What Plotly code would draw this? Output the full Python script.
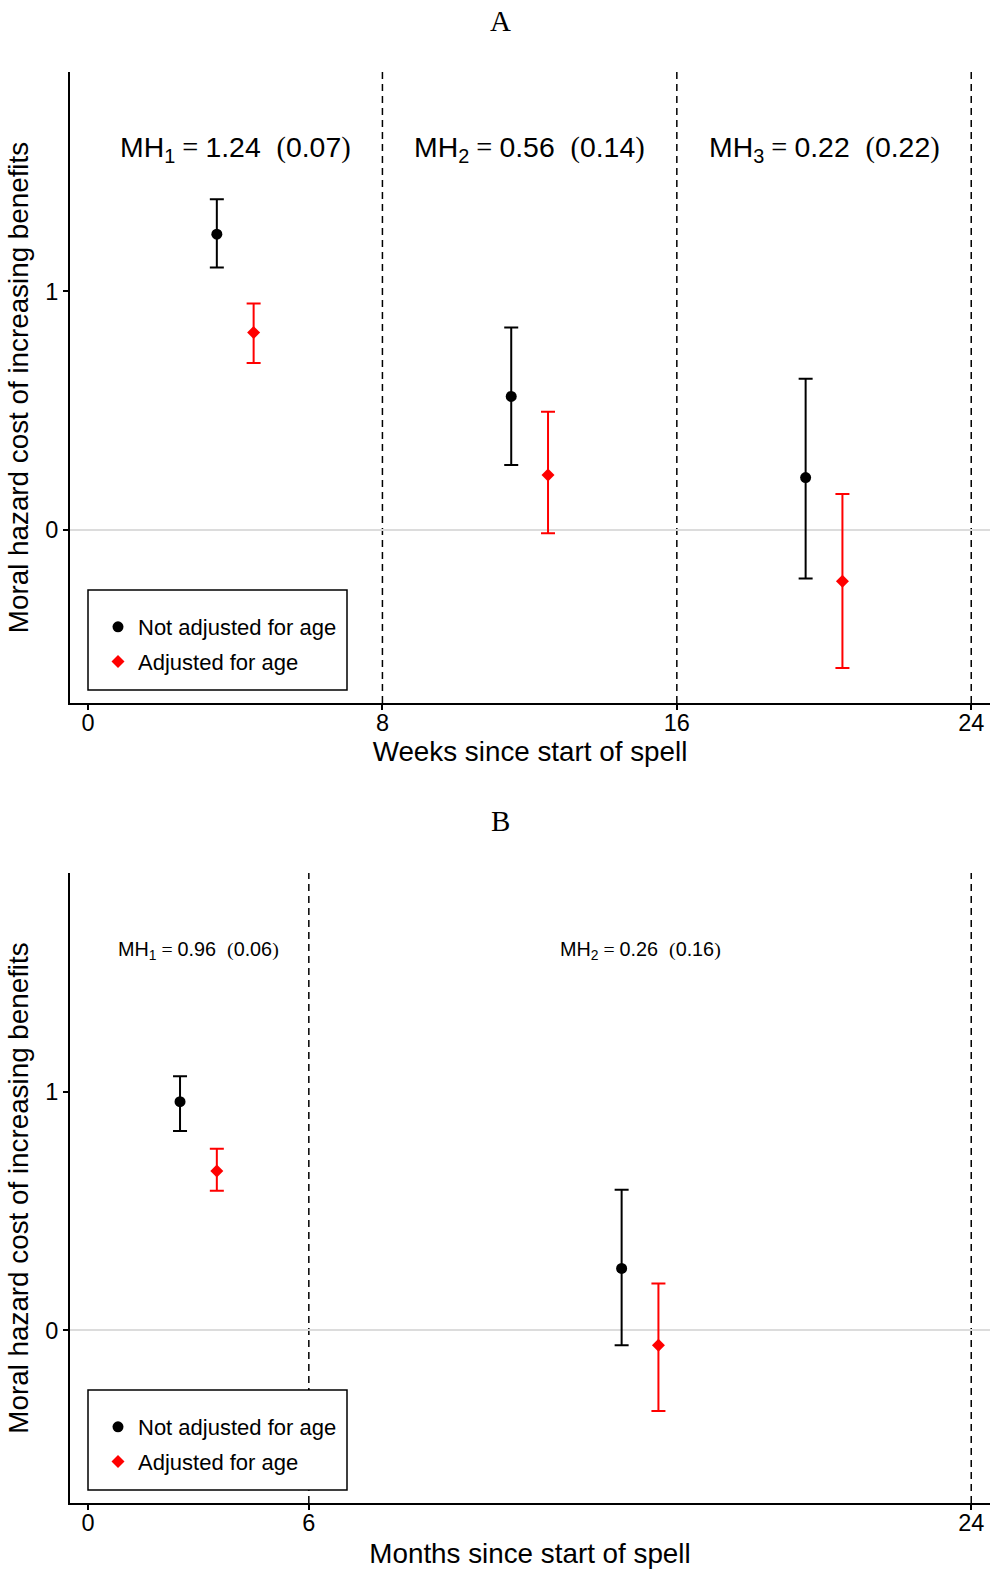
import plotly.graph_objects as go

# ---------------- data ----------------
# Panel A (weeks)
a_x_unadj = [3.5, 11.5, 19.5]
a_est_unadj = [1.24, 0.56, 0.22]
a_hi_unadj = [1.387, 0.849, 0.634]
a_lo_unadj = [1.100, 0.273, -0.203]

a_x_adj = [4.5, 12.5, 20.5]
a_est_adj = [0.828, 0.231, -0.215]
a_hi_adj = [0.950, 0.496, 0.151]
a_lo_adj = [0.700, -0.013, -0.578]

a_breaks = [8, 16, 24]
a_ticks = [0, 8, 16, 24]
a_labels_x = [4, 12, 20]
a_labels = [("1", "1.24", "0.07"), ("2", "0.56", "0.14"), ("3", "0.22", "0.22")]

# Panel B (months)
b_x_unadj = [2.5, 14.5]
b_est_unadj = [0.96, 0.26]
b_hi_unadj = [1.067, 0.590]
b_lo_unadj = [0.837, -0.063]

b_x_adj = [3.5, 15.5]
b_est_adj = [0.669, -0.063]
b_hi_adj = [0.762, 0.197]
b_lo_adj = [0.586, -0.339]

b_breaks = [6, 24]
b_ticks = [0, 6, 24]
b_labels_x = [3, 15]
b_labels = [("1", "0.96", "0.06"), ("2", "0.26", "0.16")]

y_ticks = [0, 1]
names = ["Not adjusted for age", "Adjusted for age"]

# ---------------- layout constants ----------------
W, H = 992, 1570
XDOM = [70 / W, 990 / W]
A_DOM = [1 - 703 / H, 1 - 72 / H]
B_DOM = [1 - 1503 / H, 1 - 873 / H]
XRANGE = [-0.49, 24.51]
YRANGE = [-0.725, 1.92]
SANS = "Liberation Sans, Arial, sans-serif"
SERIF = "Liberation Serif, Times New Roman, serif"

fig = go.Figure()


def add_series(x, est, hi, lo, color, symbol, size, name, xa, ya, legend):
    fig.add_trace(go.Scatter(
        x=x, y=est, mode="markers", name=name, xaxis=xa, yaxis=ya,
        legend=legend, legendgroup=legend + name,
        marker=dict(color=color, symbol=symbol, size=size),
        error_y=dict(type="data", symmetric=False,
                     array=[h - e for h, e in zip(hi, est)],
                     arrayminus=[e - l for e, l in zip(est, lo)],
                     color=color, thickness=2, width=7),
    ))


add_series(a_x_unadj, a_est_unadj, a_hi_unadj, a_lo_unadj, "black", "circle", 11, names[0], "x", "y", "legend")
add_series(a_x_adj, a_est_adj, a_hi_adj, a_lo_adj, "#ff0000", "diamond", 10, names[1], "x", "y", "legend")
add_series(b_x_unadj, b_est_unadj, b_hi_unadj, b_lo_unadj, "black", "circle", 11, names[0], "x2", "y2", "legend2")
add_series(b_x_adj, b_est_adj, b_hi_adj, b_lo_adj, "#ff0000", "diamond", 10, names[1], "x2", "y2", "legend2")

axis_common = dict(showgrid=False, showline=True, linecolor="black", linewidth=2,
                   ticks="outside", ticklen=5, tickwidth=1.5, tickcolor="black",
                   tickfont=dict(family=SANS, size=23.5, color="black"))
TITLE_FONT = dict(family=SANS, size=27.8, color="black")

fig.update_layout(
    width=W, height=H, margin=dict(l=0, r=0, t=0, b=0),
    plot_bgcolor="white", paper_bgcolor="white",
    xaxis=dict(domain=XDOM, anchor="y", range=XRANGE, tickvals=a_ticks,
               ticklabelstandoff=-7,
               title=dict(text="Weeks since start of spell", standoff=4, font=TITLE_FONT),
               zeroline=False, **axis_common),
    yaxis=dict(domain=A_DOM, anchor="x", range=YRANGE, tickvals=y_ticks,
               title=dict(text="Moral hazard cost of increasing benefits", standoff=8,
                          font=TITLE_FONT),
               zeroline=True, zerolinecolor="#dcdcdc", zerolinewidth=1.5, **axis_common),
    xaxis2=dict(domain=XDOM, anchor="y2", range=XRANGE, tickvals=b_ticks,
                ticklabelstandoff=-7,
                title=dict(text="Months since start of spell", standoff=8, font=TITLE_FONT),
                zeroline=False, **axis_common),
    yaxis2=dict(domain=B_DOM, anchor="x2", range=YRANGE, tickvals=y_ticks,
                title=dict(text="Moral hazard cost of increasing benefits", standoff=8,
                           font=TITLE_FONT),
                zeroline=True, zerolinecolor="#dcdcdc", zerolinewidth=1.5, **axis_common),
    legend=dict(x=98 / W, y=1 - 606 / H, xanchor="left", yanchor="top",
                bgcolor="rgba(0,0,0,0)", borderwidth=0, tracegroupgap=3,
                font=dict(family=SANS, size=22, color="black")),
    legend2=dict(x=98 / W, y=1 - 1406 / H, xanchor="left", yanchor="top",
                 bgcolor="rgba(0,0,0,0)", borderwidth=0, tracegroupgap=3,
                 font=dict(family=SANS, size=22, color="black")),
)

# dashed break lines
for b in a_breaks:
    fig.add_shape(type="line", xref="x", yref="y", x0=b, x1=b, y0=YRANGE[0], y1=YRANGE[1],
                  line=dict(color="black", width=1.5, dash="7px,5px"), layer="below")
for b in b_breaks:
    fig.add_shape(type="line", xref="x2", yref="y2", x0=b, x1=b, y0=YRANGE[0], y1=YRANGE[1],
                  line=dict(color="black", width=1.5, dash="7px,5px"), layer="below")

# legend boxes
for top, bot in [(590, 690), (1390, 1490)]:
    fig.add_shape(type="rect", xref="paper", yref="paper",
                  x0=88 / W, x1=347 / W, y0=1 - bot / H, y1=1 - top / H,
                  line=dict(color="black", width=1.5), fillcolor="white", layer="above")


def mh_text(sub, val, se):
    s = f"<span style='font-family:{SERIF}'>"
    return (f"MH<sub>{sub}</sub>{s} = </span>{val}  {s}(</span>{se}{s})</span>")


for xv, (sub, val, se) in zip(a_labels_x, a_labels):
    fig.add_annotation(x=xv, y=1.597, xref="x", yref="y", text=mh_text(sub, val, se),
                       showarrow=False, yanchor="middle",
                       font=dict(family=SANS, size=28.4, color="black"))
for xv, (sub, val, se) in zip(b_labels_x, b_labels):
    fig.add_annotation(x=xv, y=1.595, xref="x2", yref="y2", text=mh_text(sub, val, se),
                       showarrow=False, yanchor="middle",
                       font=dict(family=SANS, size=19.8, color="black"))

# panel titles
for t, ypx in [("A", 21), ("B", 821)]:
    fig.add_annotation(x=500 / W, y=1 - ypx / H, xref="paper", yref="paper", text=t,
                       showarrow=False, yanchor="middle",
                       font=dict(family=SERIF, size=29, color="black"))

fig.write_html("out.html")
